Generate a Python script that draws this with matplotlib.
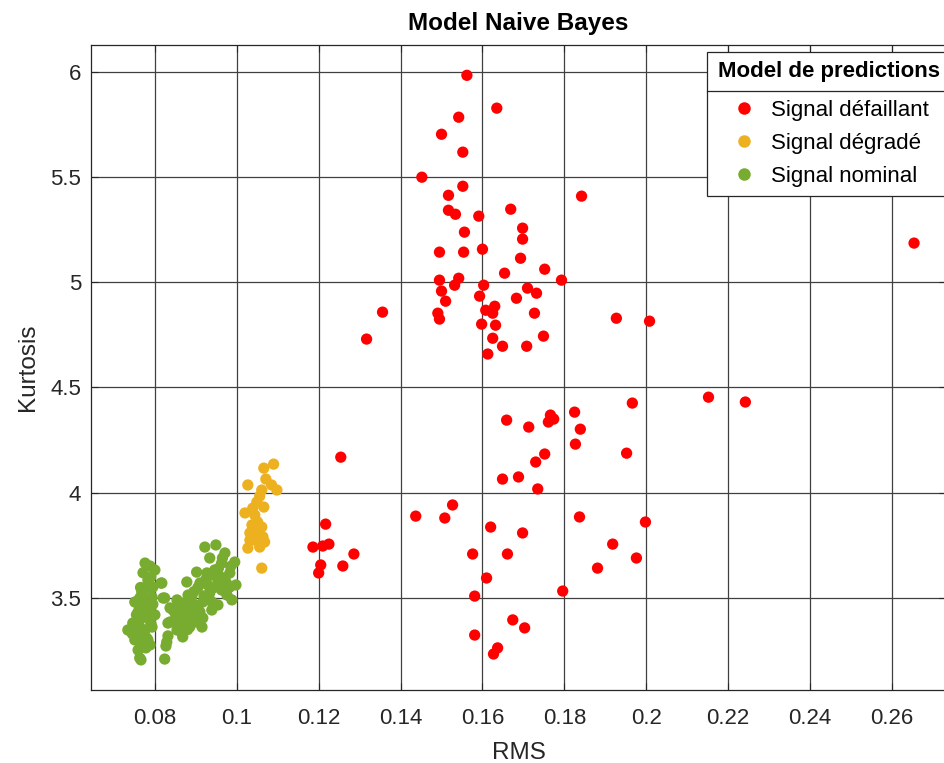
"""Naive Bayes prediction map: Kurtosis vs RMS, coloured by predicted class."""
import matplotlib
matplotlib.use("Agg")
import matplotlib.pyplot as plt
from matplotlib.lines import Line2D
import numpy as np

plt.rcParams["font.family"] = ["Liberation Sans", "DejaVu Sans"]

# predicted "défaillant"
rms_fail = [
    0.1562, 0.1635, 0.1542, 0.1500, 0.1552, 0.1452, 0.1552, 0.1517, 0.1842, 0.1517,
    0.1534, 0.1669, 0.1591, 0.1698, 0.1698, 0.1556, 0.1495, 0.1554, 0.1600, 0.1693,
    0.1654, 0.1752, 0.1495, 0.1542, 0.1532, 0.1793, 0.1603, 0.1500, 0.1593, 0.1710,
    0.1732, 0.1683, 0.1510, 0.1356, 0.1491, 0.1630, 0.1608, 0.1625, 0.1727, 0.1495,
    0.1317, 0.1598, 0.1632, 0.1625, 0.1749, 0.1649, 0.1708, 0.1613,
    0.2654, 0.1927, 0.2008, 0.2152, 0.2242, 0.1966, 0.1825, 0.1839, 0.1827, 0.1952,
    0.1837, 0.1998, 0.1918, 0.1976, 0.1881, 0.1796,
    0.1659, 0.1713, 0.1766, 0.1774, 0.1761, 0.1254, 0.1752, 0.1730, 0.1649, 0.1688,
    0.1735, 0.1527, 0.1437, 0.1508, 0.1217, 0.1620, 0.1698, 0.1186, 0.1210, 0.1225,
    0.1286, 0.1576, 0.1661, 0.1205, 0.1259, 0.1200, 0.1610, 0.1581, 0.1674, 0.1703,
    0.1581, 0.1637, 0.1627,
]
kurt_fail = [
    5.983, 5.827, 5.784, 5.703, 5.618, 5.499, 5.456, 5.413, 5.409, 5.342,
    5.323, 5.347, 5.314, 5.257, 5.205, 5.238, 5.143, 5.143, 5.157, 5.114,
    5.043, 5.062, 5.010, 5.019, 4.986, 5.010, 4.986, 4.958, 4.934, 4.972,
    4.948, 4.924, 4.910, 4.858, 4.853, 4.886, 4.867, 4.853, 4.853, 4.825,
    4.730, 4.801, 4.796, 4.734, 4.744, 4.696, 4.696, 4.659,
    5.186, 4.829, 4.815, 4.454, 4.431, 4.426, 4.383, 4.302, 4.231, 4.188,
    3.885, 3.861, 3.756, 3.690, 3.642, 3.533,
    4.345, 4.312, 4.369, 4.350, 4.336, 4.169, 4.184, 4.146, 4.065, 4.075,
    4.018, 3.942, 3.889, 3.880, 3.851, 3.837, 3.809, 3.742, 3.747, 3.756,
    3.709, 3.709, 3.709, 3.657, 3.652, 3.619, 3.595, 3.509, 3.396, 3.358,
    3.324, 3.263, 3.234,
]

# predicted "dégradé"
rms_degr = [
    0.1090, 0.1066, 0.1027, 0.1071, 0.1085, 0.1098, 0.1056, 0.1049, 0.1066, 0.1020,
    0.1044, 0.1051, 0.1061, 0.1032, 0.1064, 0.1044, 0.1068, 0.1027, 0.1056, 0.1061,
    0.1037, 0.1049, 0.1039, 0.1061, 0.1032,
]
kurt_degr = [
    4.136, 4.117, 4.037, 4.065, 4.037, 4.013, 3.984, 3.956, 3.932, 3.904,
    3.894, 3.861, 3.837, 3.809, 3.790, 3.775, 3.766, 3.737, 3.742, 3.642,
    3.847, 3.823, 3.927, 4.013, 3.775,
]

# predicted "nominal"
rms_nom = [
    0.0776, 0.0788, 0.0783, 0.0815, 0.0795, 0.0768, 0.0824, 0.0751, 0.0783, 0.0837,
    0.0776, 0.0763, 0.0788, 0.0734, 0.0763, 0.0793, 0.0832, 0.0751, 0.0783, 0.0768,
    0.0759, 0.0778, 0.0763, 0.0766, 0.0827, 0.0824, 0.0832, 0.0759, 0.0793, 0.0776,
    0.0746, 0.0788, 0.0763, 0.0800,
    0.0771, 0.0785, 0.0760, 0.0772, 0.0790, 0.0755, 0.0780, 0.0766, 0.0795, 0.0745,
    0.0775, 0.0790, 0.0765, 0.0800, 0.0758,
    0.0922, 0.0949, 0.0971, 0.0934, 0.0995, 0.0963, 0.0902, 0.0927, 0.0983, 0.0878,
    0.0910, 0.0954, 0.0983, 0.0817, 0.0934, 0.0976, 0.0820, 0.0854, 0.0890, 0.0917,
    0.0954, 0.0844, 0.0878, 0.0910, 0.0939, 0.0837, 0.0868, 0.0902, 0.0917, 0.0854,
    0.0885, 0.0915, 0.0868, 0.0829, 0.0866, 0.0851, 0.0898, 0.0929, 0.0963, 0.0946,
    0.0881, 0.0861, 0.0893, 0.0934, 0.0971, 0.0998, 0.0988,
    0.0860, 0.0875, 0.0895, 0.0905, 0.0925, 0.0940, 0.0955, 0.0965, 0.0870, 0.0890,
    0.0900, 0.0920, 0.0945, 0.0960, 0.0985, 0.0850, 0.0880, 0.0905, 0.0940, 0.0975,
]
kurt_nom = [
    3.666, 3.652, 3.585, 3.571, 3.552, 3.528, 3.500, 3.481, 3.457, 3.453,
    3.410, 3.396, 3.434, 3.348, 3.362, 3.362, 3.381, 3.301, 3.301, 3.329,
    3.253, 3.263, 3.215, 3.206, 3.272, 3.210, 3.320, 3.434, 3.505, 3.348,
    3.381, 3.277, 3.500, 3.633,
    3.620, 3.550, 3.470, 3.440, 3.380, 3.420, 3.310, 3.280, 3.470, 3.330,
    3.500, 3.600, 3.550, 3.420, 3.370,
    3.742, 3.752, 3.714, 3.690, 3.671, 3.666, 3.623, 3.619, 3.619, 3.576,
    3.571, 3.585, 3.552, 3.571, 3.524, 3.514, 3.500, 3.491, 3.505, 3.481,
    3.467, 3.443, 3.443, 3.434, 3.443, 3.386, 3.396, 3.386, 3.405, 3.348,
    3.362, 3.362, 3.315, 3.291, 3.334, 3.419, 3.467, 3.562, 3.538, 3.633,
    3.514, 3.372, 3.419, 3.491, 3.595, 3.562, 3.491,
    3.450, 3.480, 3.530, 3.550, 3.590, 3.610, 3.640, 3.690, 3.420, 3.400,
    3.450, 3.510, 3.550, 3.600, 3.650, 3.390, 3.350, 3.390, 3.480, 3.570,
]

labels = ["Signal défaillant", "Signal dégradé", "Signal nominal"]
colors = ["#FF0000", "#EDB120", "#77AC30"]

fig = plt.figure(figsize=(9.44, 7.63), dpi=100)
ax = fig.add_axes([91 / 944, 73 / 763, 855 / 944, 645 / 763])

for xs, ys, c in zip([rms_fail, rms_degr, rms_nom], [kurt_fail, kurt_degr, kurt_nom], colors):
    ax.scatter(xs, ys, s=66, color=c, edgecolors="none", zorder=3)

ax.set_xlim(0.0644, 0.2732)
ax.set_ylim(3.063, 6.127)
xt = np.round(np.arange(0.08, 0.261, 0.02), 2)
yt = np.arange(3.5, 6.01, 0.5)
ax.set_xticks(xt)
ax.set_xticklabels([f"{v:g}" for v in xt])
ax.set_yticks(yt)
ax.set_yticklabels([f"{v:g}" for v in yt])

ax.grid(True, color="0.25", lw=0.9, zorder=0)
ax.set_axisbelow(True)
ax.tick_params(direction="in", length=5, width=0.8, colors="#262626",
               labelsize=16, top=True, right=True)
ax.tick_params(axis="x", pad=13)
ax.tick_params(axis="y", pad=7)
for sp in ax.spines.values():
    sp.set_color("#262626")
    sp.set_linewidth(0.9)

ax.set_xlabel("RMS", fontsize=17.5, color="#262626", labelpad=9)
ax.set_ylabel("Kurtosis", fontsize=17.5, color="#262626", labelpad=8)
ax.set_title("Model Naive Bayes", fontsize=17.5, fontweight="bold", pad=11)

handles = [Line2D([], [], ls="none", marker="o", ms=9, color=c, mec="none") for c in colors]
leg = ax.legend(handles, labels, title="Model de predictions", loc="upper left",
                bbox_to_anchor=((707 - 91) / 855, 0.0, (952 - 707) / 855, 0.989),
                mode="expand", fontsize=16,
                title_fontproperties={"weight": "bold", "size": 16},
                frameon=True, fancybox=False, framealpha=1, edgecolor="#262626",
                borderpad=0.4, handletextpad=0.0, labelspacing=0.55,
                handlelength=2.5, borderaxespad=0.0)
leg.get_frame().set_linewidth(0.9)
leg.set_zorder(5)
leg._legend_box.sep += 4

# separator line under the legend title
fig.canvas.draw()
r = fig.canvas.get_renderer()
lb = leg.get_window_extent(r)
tb = leg.get_title().get_window_extent(r)
t1 = leg.get_texts()[0].get_window_extent(r)
ysep = 0.5 * (tb.y0 + t1.y1) / fig.bbox.height
fig.add_artist(Line2D([lb.x0 / fig.bbox.width, lb.x1 / fig.bbox.width], [ysep, ysep],
                      color="#262626", lw=0.9, zorder=6))

fig.savefig("out.png", dpi=100)
